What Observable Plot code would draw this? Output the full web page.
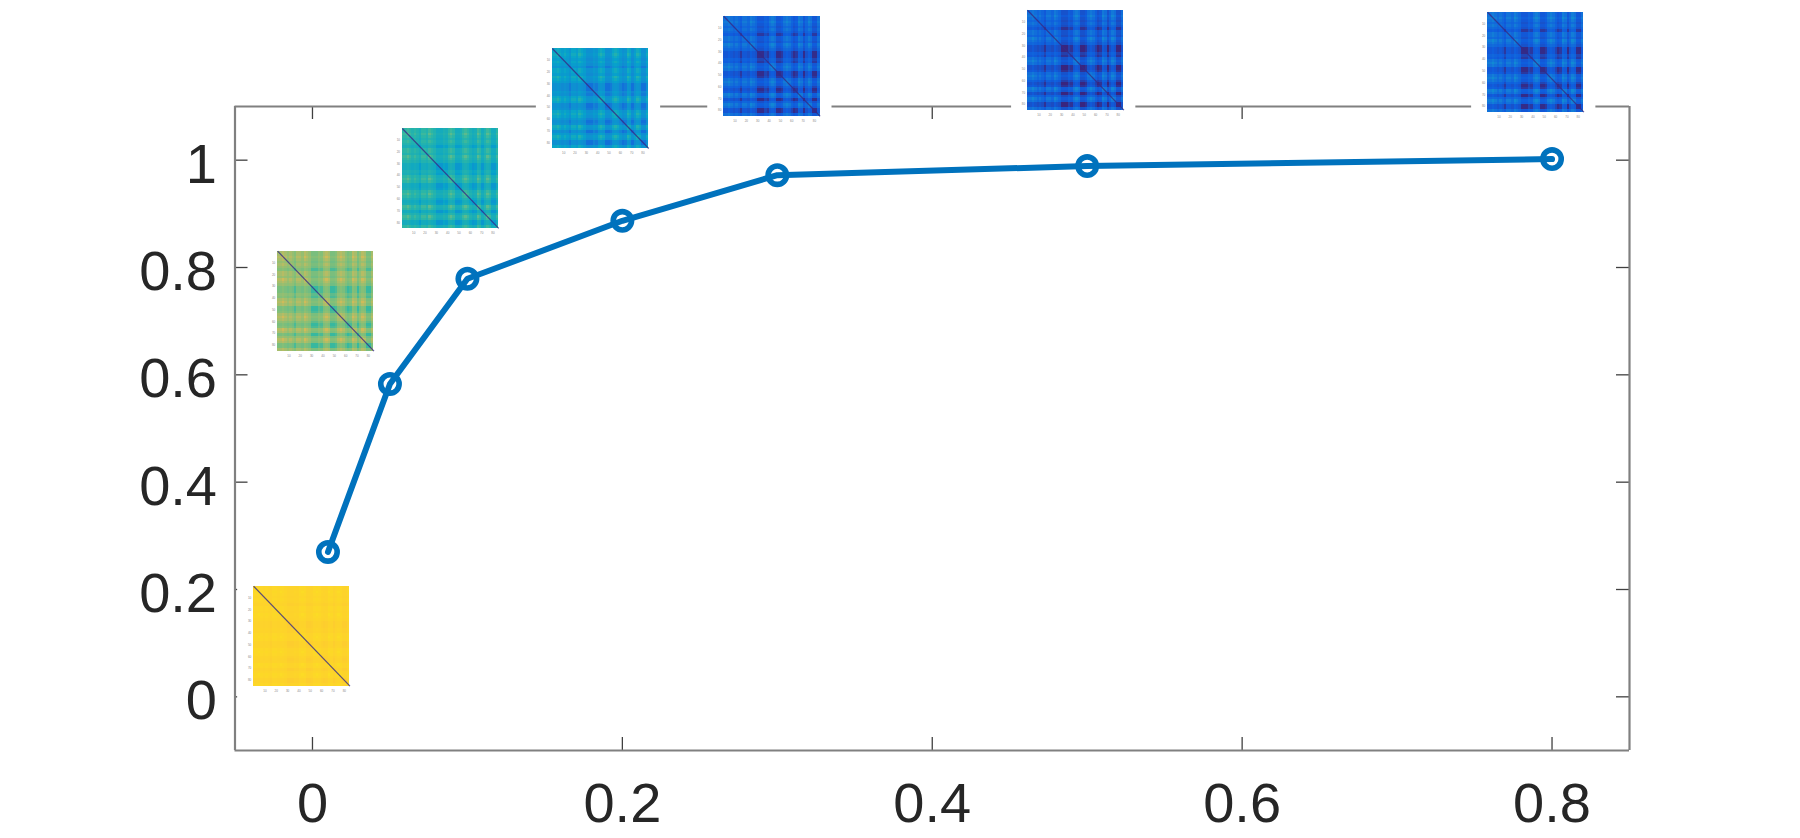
<!DOCTYPE html>
<html><head><meta charset="utf-8">
<style>html,body{margin:0;padding:0;background:#fff;overflow:hidden}</style>
<script src="https://cdn.jsdelivr.net/npm/d3@7"></script>
<script src="https://cdn.jsdelivr.net/npm/@observablehq/plot@0.6"></script>
</head><body><div id="chart"></div>
<script>
const xValues = [0.01, 0.05, 0.1, 0.2, 0.3, 0.5, 0.8];
const yValues = [0.27, 0.583, 0.779, 0.887, 0.972, 0.989, 1.002];
const xTicks = [0, 0.2, 0.4, 0.6, 0.8];
const yTicks = [0, 0.2, 0.4, 0.6, 0.8, 1];

// inset correlation images, chart units: lower-left corner, base level and contrast
const insetLeft   = [-0.0380, -0.0225, 0.0580, 0.1548, 0.2654, 0.4615, 0.7584];
const insetBottom = [0.0199, 0.6443, 0.8728, 1.0218, 1.0819, 1.0931, 1.0894];
const insetWidth = 0.0622, insetHeight = 0.1862;
const insetLevel    = [0.905, 0.635, 0.45, 0.335, 0.145, 0.135, 0.15];
const insetContrast = [0.002, 0.014, 0.014, 0.016, 0.016, 0.017, 0.017];
// light/dark band pattern read along the top of the inset images
const bandPattern = [1,1,2,1,0,1,0,-2,1,1,0,2,1,0,-3,-3,-3,-1,-2,1,2,1,-3,-3,-2,1,2,1,-1,-3,-2,2,1,-3,0,2,1,-3,-3,1];
const insetTickLabels = [10,20,30,40,50,60,70,80];
const parula = ["#352a87","#0f5cdd","#1481d6","#06a4ca","#2eb7a4","#87bf77","#d1bb59","#fec832","#f9fb0e"];

const points = xValues.map((x,i)=>({x,y:yValues[i]}));
const insets = insetLeft.map((l,k)=>({k,l,b:insetBottom[k],r:l+insetWidth,t:insetBottom[k]+insetHeight}));
const n = bandPattern.length;
const cells = [];
for (const s of insets) for (let i=0;i<n;i++) for (let j=0;j<n;j++) {
  const a=bandPattern[i], b=bandPattern[j];
  const both = a>0&&b>0 ? a*b : a<0&&b<0 ? -0.3*a*b : 0;
  cells.push({
    x1:s.l+insetWidth*j/n, x2:s.l+insetWidth*(j+1)/n,
    y1:s.t-insetHeight*i/n, y2:s.t-insetHeight*(i+1)/n,
    v:insetLevel[s.k]+insetContrast[s.k]*(a+b+both)
  });
}
const insetXLabels = insets.flatMap(s=>insetTickLabels.map(t=>({t,x:s.l+insetWidth*t/85,y:s.b})));
const insetYLabels = insets.flatMap(s=>insetTickLabels.map(t=>({t,x:s.l,y:s.t-insetHeight*t/85})));

const X0=-0.05,X1=0.85,Y0=-0.1,Y1=1.1, TX=0.0084, TY=0.0242;
const frame="#808080", tick="#404040", ink="#262626", blue="#0072bd";
const font="'Liberation Sans',Arial,sans-serif";

const chart = Plot.plot({
  width:1800,height:838,marginLeft:234.5,marginRight:171,marginTop:106,marginBottom:88,
  style:{background:"#fff",fontFamily:font},
  x:{domain:[X0,X1]}, y:{domain:[Y0,Y1]},
  color:{type:"linear",domain:d3.range(9).map(i=>i/8),range:parula},
  marks:[
    Plot.ruleX(xTicks,{y1:Y0,y2:Y0+TY,stroke:tick,strokeWidth:1.3}),
    Plot.ruleX(xTicks,{y1:Y1,y2:Y1-TY,stroke:tick,strokeWidth:1.3}),
    Plot.ruleY(yTicks,{x1:X0,x2:X0+TX,stroke:tick,strokeWidth:1.3}),
    Plot.ruleY(yTicks,{x1:X1,x2:X1-TX,stroke:tick,strokeWidth:1.3}),
    Plot.ruleX([X0,X1],{y1:Y0,y2:Y1,stroke:frame,strokeWidth:2.2}),
    Plot.ruleY([Y0,Y1],{x1:X0,x2:X1,stroke:frame,strokeWidth:2.2}),
    Plot.axisX(xTicks,{anchor:"bottom",tickSize:0,tickPadding:32,fontSize:56,fill:ink,label:null,tickFormat:d=>String(d)}),
    Plot.axisY(yTicks,{anchor:"left",tickSize:0,tickPadding:18,fontSize:56,fill:ink,label:null,dy:4.5,tickFormat:d=>String(d)}),
    Plot.rect(insets,{x1:d=>d.l-0.0103,x2:d=>d.r+0.0077,y1:d=>d.b-0.026,y2:d=>d.t,fill:"#fff"}),
    Plot.rect(cells,{x1:"x1",x2:"x2",y1:"y1",y2:"y2",fill:"v",shapeRendering:"crispEdges"}),
    Plot.link(insets,{x1:"l",y1:"t",x2:"r",y2:"b",stroke:"#352a87",strokeWidth:1.2,strokeOpacity:0.8}),
    Plot.text(insetXLabels,{x:"x",y:"y",text:"t",fontSize:3,fill:"#888",dy:5}),
    Plot.text(insetYLabels,{x:"x",y:"y",text:"t",fontSize:3,fill:"#888",dx:-4}),
    Plot.line(points,{x:"x",y:"y",stroke:blue,strokeWidth:6,strokeLinejoin:"round"}),
    Plot.dot(points,{x:"x",y:"y",r:9.2,stroke:blue,strokeWidth:5.6,fill:"none"})
  ]
});
document.getElementById("chart").appendChild(chart);
</script></body></html>
